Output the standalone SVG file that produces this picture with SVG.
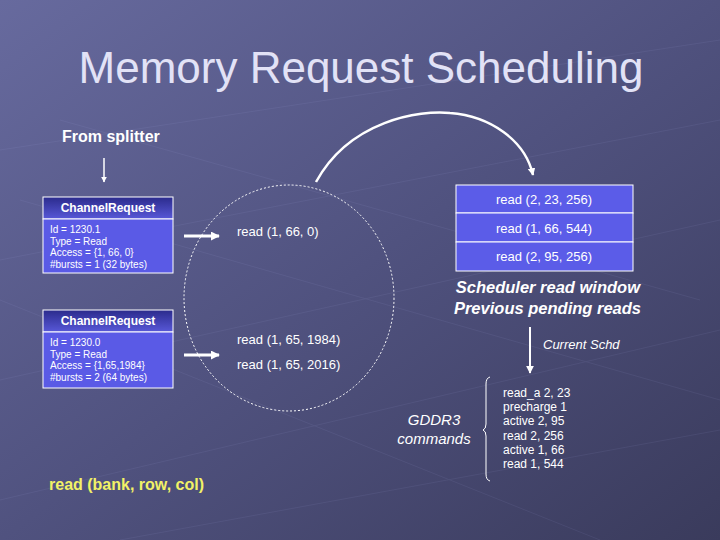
<svg xmlns="http://www.w3.org/2000/svg" width="720" height="540" viewBox="0 0 720 540">
<defs>
<linearGradient id="bg" x1="0" y1="0" x2="1" y2="1">
<stop offset="0" stop-color="#676a9e"/>
<stop offset="0.5" stop-color="#50527f"/>
<stop offset="1" stop-color="#3a3b5c"/>
</linearGradient>
<linearGradient id="hdr" x1="0" y1="0" x2="0" y2="1">
<stop offset="0" stop-color="#2b2b8c"/>
<stop offset="1" stop-color="#5858d8"/>
</linearGradient>
<marker id="ah" viewBox="0 0 10 10" refX="9" refY="5" markerWidth="4" markerHeight="4" orient="auto" markerUnits="strokeWidth">
<path d="M0,0 L10,5 L0,10 z" fill="#ffffff"/>
</marker>
<marker id="ah2" viewBox="0 0 10 10" refX="9" refY="5" markerWidth="3" markerHeight="3" orient="auto" markerUnits="strokeWidth">
<path d="M0,0 L10,5 L0,10 z" fill="#ffffff"/>
</marker>
</defs>
<style>
text{font-family:"Liberation Sans",Arial,sans-serif;fill:#ffffff}
.title{font-size:44px;fill:#e2e2f6}
.hd{font-size:12px;font-weight:bold}
.bd{font-size:10px}
.rd{font-size:13px}
.cell{fill:#5b5ce8;stroke:#ffffff;stroke-width:1}
.bi{font-size:16.5px;font-weight:bold;font-style:italic}
.it{font-style:italic}
.box{fill:#5a5ae6;stroke:#ffffff;stroke-width:1}
</style>
<rect x="0" y="0" width="720" height="540" fill="url(#bg)"/>
<g opacity="0.07" stroke="#c0c4ff" stroke-width="1" fill="none">
<path d="M0,150 L720,40 M0,260 L720,120 M0,380 L720,220 M0,500 L720,330 M120,540 L720,430"/>
<path d="M60,120 L700,300 M20,200 L720,400 M0,300 L600,540"/>
</g>
<text class="title" x="361" y="83" text-anchor="middle">Memory Request Scheduling</text>

<g id="from-splitter">
<text x="62" y="142" font-size="16" font-weight="bold">From splitter</text>
</g>

<g id="req1">
<rect x="43" y="197" width="130" height="22" fill="url(#hdr)" stroke="#ffffff"/>
<rect class="box" x="43" y="219" width="130" height="54"/>
<text class="hd" x="108" y="212" text-anchor="middle">ChannelRequest</text>
<text class="bd" x="50" y="233">Id = 1230.1</text>
<text class="bd" x="50" y="245">Type = Read</text>
<text class="bd" x="50" y="256">Access = {1, 66, 0}</text>
<text class="bd" x="50" y="268">#bursts = 1 (32 bytes)</text>
</g>

<g id="req2">
<rect x="43" y="310" width="130" height="22" fill="url(#hdr)" stroke="#ffffff"/>
<rect class="box" x="43" y="332" width="130" height="56"/>
<text class="hd" x="108" y="325" text-anchor="middle">ChannelRequest</text>
<text class="bd" x="50" y="346">Id = 1230.0</text>
<text class="bd" x="50" y="358">Type = Read</text>
<text class="bd" x="50" y="369">Access = {1,65,1984}</text>
<text class="bd" x="50" y="381">#bursts = 2 (64 bytes)</text>
</g>

<g id="pool">
<ellipse cx="289" cy="298" rx="105" ry="113" fill="none" stroke="#ffffff" stroke-width="1" stroke-dasharray="2,2"/>
<text class="rd" x="237" y="236">read (1, 66, 0)</text>
<text class="rd" x="237" y="344">read (1, 65, 1984)</text>
<text class="rd" x="237" y="369">read (1, 65, 2016)</text>
</g>

<g id="window">
<rect class="cell" x="456" y="185" width="177" height="28"/>
<rect class="cell" x="456" y="213" width="177" height="29"/>
<rect class="cell" x="456" y="242" width="177" height="29"/>
<text class="rd" x="544" y="204" text-anchor="middle">read (2, 23, 256)</text>
<text class="rd" x="544" y="233" text-anchor="middle">read (1, 66, 544)</text>
<text class="rd" x="544" y="261" text-anchor="middle">read (2, 95, 256)</text>
<text class="bi" x="640" y="293" text-anchor="end">Scheduler read window</text>
<text class="bi" x="641" y="314" text-anchor="end">Previous pending reads</text>
</g>

<g id="current">
<text class="it" x="543" y="349" font-size="13">Current Schd</text>
</g>

<g id="gddr3">
<text class="it" x="434" y="425" font-size="15" text-anchor="middle">GDDR3</text>
<text class="it" x="434" y="444" font-size="15" text-anchor="middle">commands</text>
<path d="M490,377 Q486,378 486,384 L486,424 Q486,429 483,430 Q486,431 486,436 L486,474 Q486,480 490,481" fill="none" stroke="#ffffff" stroke-width="1"/>
</g>

<g id="commands">
<text x="503" y="397" font-size="12">read_a 2, 23</text>
<text x="503" y="411" font-size="12">precharge 1</text>
<text x="503" y="425" font-size="12">active 2, 95</text>
<text x="503" y="440" font-size="12">read 2, 256</text>
<text x="503" y="454" font-size="12">active 1, 66</text>
<text x="503" y="468" font-size="12">read 1, 544</text>
</g>

<g id="legend">
<text x="49" y="490" font-size="16" font-weight="bold" style="fill:#f2f266">read (bank, row, col)</text>
</g>

<g id="connectors" fill="none" stroke="#ffffff">
<line x1="104" y1="158" x2="104" y2="182" stroke-width="1.5" marker-end="url(#ah)"/>
<line x1="184" y1="236" x2="219" y2="236" stroke-width="3" marker-end="url(#ah2)"/>
<line x1="184" y1="355" x2="219" y2="355" stroke-width="3" marker-end="url(#ah2)"/>
<path d="M316,182 C350,120 420,110 450,113 C490,116 525,140 533,175" stroke-width="2.5" marker-end="url(#ah2)"/>
<line x1="530" y1="327" x2="530" y2="373" stroke-width="2" marker-end="url(#ah)"/>
</g>
</svg>
